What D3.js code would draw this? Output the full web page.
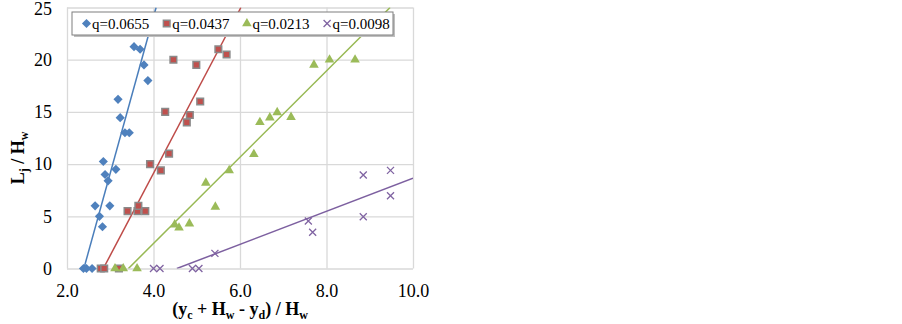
<!DOCTYPE html>
<html>
<head>
<meta charset="utf-8">
<script src="https://cdn.jsdelivr.net/npm/d3@7"></script>
<style>
    body { margin: 0; background: #ffffff; }
</style>
</head>
<body>
<div id="chart"></div>
<script>
// series
const series_names = ['q=0.0655', 'q=0.0437', 'q=0.0213', 'q=0.0098'];

const q0655_x = [2.38, 2.45, 2.58, 2.82, 2.75, 2.65, 2.99, 2.95, 2.88, 3.13, 2.84, 3.34, 3.44, 3.23, 3.18, 3.87, 3.78, 3.69, 3.55];
const q0655_y = [0, 0, 0, 4.0, 5.0, 6.0, 6.0, 8.4, 9.0, 9.5, 10.25, 13.0, 13.0, 14.45, 16.2, 18.0, 19.5, 21.0, 21.25];

const q0437_x = [2.78, 2.86, 3.2, 3.40, 3.63, 3.81, 3.65, 4.17, 3.92, 4.36, 4.77, 4.84, 4.27, 5.08, 4.99, 4.46, 5.69, 5.50];
const q0437_y = [0, 0, 0, 5.5, 5.5, 5.5, 6.0, 9.4, 10.0, 11.0, 14.0, 14.7, 15.0, 16.0, 19.5, 20.0, 20.5, 21.0];

const q0213_x = [3.11, 3.30, 3.62, 4.59, 4.49, 4.83, 5.43, 5.21, 5.75, 6.32, 6.46, 6.69, 7.18, 6.86, 7.71, 8.07, 8.66];
const q0213_y = [0, 0, 0, 3.9, 4.2, 4.3, 5.9, 8.2, 9.4, 10.95, 14.0, 14.45, 14.5, 14.95, 19.5, 20.0, 20.0];

const q0098_x = [4.0, 4.15, 4.9, 5.05, 5.42, 7.68, 7.58, 8.85, 9.48, 8.85, 9.48];
const q0098_y = [0, 0, 0, 0, 1.45, 3.47, 4.55, 4.96, 6.97, 8.95, 9.4];

// fitted trend lines, end points
const trend_0655 = [[2.39, 0], [4.06, 25]];
const trend_0437 = [[2.84, 0], [6.02, 25]];
const trend_0213 = [[3.42, 0], [9.47, 25]];
const trend_0098 = [[4.54, 0], [10.0, 8.64]];

const x_ticks = [2, 4, 6, 8, 10];
const y_ticks = [0, 5, 10, 15, 20, 25];

(function() {
    let width = 902, height = 324;
    let margins = {top: 7.5, right: 489, bottom: 55.5, left: 67};
    let plot_width = width - margins.left - margins.right,
        plot_height = height - margins.top - margins.bottom;

    let font = '"Liberation Serif", "Times New Roman", serif';

    let series = [
        {name: series_names[0], xs: q0655_x, ys: q0655_y, trend: trend_0655, color: '#4f81bd', line: '#4a7ebb', shape: 'diamond'},
        {name: series_names[1], xs: q0437_x, ys: q0437_y, trend: trend_0437, color: '#c0504d', line: '#be4b48', shape: 'square'},
        {name: series_names[2], xs: q0213_x, ys: q0213_y, trend: trend_0213, color: '#9bbb59', line: '#98b954', shape: 'triangle'},
        {name: series_names[3], xs: q0098_x, ys: q0098_y, trend: trend_0098, color: '#8064a2', line: '#7d60a0', shape: 'cross'}
    ];

    let x = d3.scaleLinear().domain([2, 10]).range([0, plot_width]),
        y = d3.scaleLinear().domain([0, 25]).range([plot_height, 0]);

    let svg = d3.select('#chart').append('svg')
        .attr('width', width)
        .attr('height', height)
        .attr('font-family', font);

    svg.append('rect')
        .attr('width', width)
        .attr('height', height)
        .attr('fill', '#ffffff');

    svg.append('defs').append('clipPath')
        .attr('id', 'plot-clip')
        .append('rect')
        .attr('width', plot_width)
        .attr('height', plot_height);

    let g = svg.append('g')
        .attr('transform', 'translate(' + margins.left + ',' + margins.top + ')');

    // gridlines + tick labels
    let x_axis = g.append('g')
        .attr('transform', 'translate(0,' + plot_height + ')')
        .call(d3.axisBottom(x).tickValues(x_ticks).tickFormat(d3.format('.1f'))
            .tickSize(-plot_height).tickPadding(16));

    let y_axis = g.append('g')
        .call(d3.axisLeft(y).tickValues(y_ticks).tickFormat(d3.format('d'))
            .tickSize(-plot_width).tickPadding(15));

    [x_axis, y_axis].forEach(function(axis) {
        axis.select('.domain').remove();
        axis.selectAll('line').attr('stroke', '#d9d9d9').attr('stroke-width', 1.3);
        axis.selectAll('text')
            .attr('font-family', font)
            .attr('font-size', 18)
            .attr('fill', '#000000');
    });
    // top label sits right at the page edge in the reference
    y_axis.selectAll('.tick text').filter((d) => d === 25).attr('dy', '0.4em');

    // trend lines
    let line = d3.line()
        .x((d) => x(d[0]))
        .y((d) => y(d[1]));

    g.append('g')
        .attr('clip-path', 'url(#plot-clip)')
        .selectAll('path')
        .data(series)
        .enter().append('path')
        .attr('fill', 'none')
        .attr('stroke', (d) => d.line)
        .attr('stroke-width', 1.5)
        .attr('d', (d) => line(d.trend));

    let marker = function(sel, shape, color) {
        if (shape === 'diamond') {
            sel.attr('d', d3.symbol(d3.symbolSquare, 42)())
                .attr('fill', color);
        } else if (shape === 'square') {
            sel.attr('d', d3.symbol(d3.symbolSquare, 44)())
                .attr('fill', color)
                .attr('stroke', '#8a8a8a')
                .attr('stroke-width', 1.5);
        } else if (shape === 'triangle') {
            sel.attr('d', d3.symbol(d3.symbolTriangle, 40)())
                .attr('fill', color);
        } else {
            sel.attr('d', d3.symbol(d3.symbolTimes, 34)())
                .attr('fill', 'none')
                .attr('stroke', color)
                .attr('stroke-width', 1.3);
        }
        return sel;
    };

    series.forEach(function(s) {
        let points = s.xs.map((v, i) => ({x: v, y: s.ys[i]}));
        g.append('g').selectAll('path')
            .data(points)
            .enter().append('path')
            .attr('transform', (d) => 'translate(' + x(d.x) + ',' + y(d.y) + ')' + (s.shape === 'diamond' ? ' rotate(45)' : ''))
            .call(marker, s.shape, s.color);
    });

    // legend
    let legend = svg.append('g')
        .attr('transform', 'translate(72,12)');

    legend.append('rect')
        .attr('x', 2).attr('y', 2)
        .attr('width', 321).attr('height', 23)
        .attr('fill', '#bfbfbf');

    legend.append('rect')
        .attr('width', 321).attr('height', 23)
        .attr('fill', '#ffffff')
        .attr('stroke', '#7f7f7f')
        .attr('stroke-width', 1);

    let items = legend.selectAll('.item')
        .data(series)
        .enter().append('g')
        .attr('class', 'item')
        .attr('transform', (d, i) => 'translate(' + (14.5 + i * 80.2) + ',11.5)');

    items.each(function(s) {
        let item = d3.select(this);
        item.append('path')
            .attr('transform', s.shape === 'diamond' ? 'rotate(45)' : null)
            .call(marker, s.shape, s.color);
        item.append('text')
            .attr('x', 5.5)
            .attr('dy', '0.35em')
            .attr('font-size', 15)
            .attr('fill', '#000000')
            .text(s.name);
    });

    // axis titles
    let x_title = svg.append('text')
        .attr('x', margins.left + plot_width / 2)
        .attr('y', 315)
        .attr('text-anchor', 'middle')
        .attr('font-size', 18)
        .attr('font-weight', 'bold');
    x_title.append('tspan').text('(y');
    x_title.append('tspan').attr('font-size', 12).attr('dy', 4).text('c');
    x_title.append('tspan').attr('dy', -4).text(' + H');
    x_title.append('tspan').attr('font-size', 12).attr('dy', 4).text('w');
    x_title.append('tspan').attr('dy', -4).text(' - y');
    x_title.append('tspan').attr('font-size', 12).attr('dy', 4).text('d');
    x_title.append('tspan').attr('dy', -4).text(') / H');
    x_title.append('tspan').attr('font-size', 12).attr('dy', 4).text('w');

    let y_title = svg.append('text')
        .attr('transform', 'translate(24,' + 158 + ') rotate(-90)')
        .attr('text-anchor', 'middle')
        .attr('font-size', 18)
        .attr('font-weight', 'bold');
    y_title.append('tspan').text('L');
    y_title.append('tspan').attr('font-size', 12).attr('dy', 4).text('j');
    y_title.append('tspan').attr('dy', -4).text(' / H');
    y_title.append('tspan').attr('font-size', 12).attr('dy', 4).text('w');
}());
</script>
</body>
</html>
